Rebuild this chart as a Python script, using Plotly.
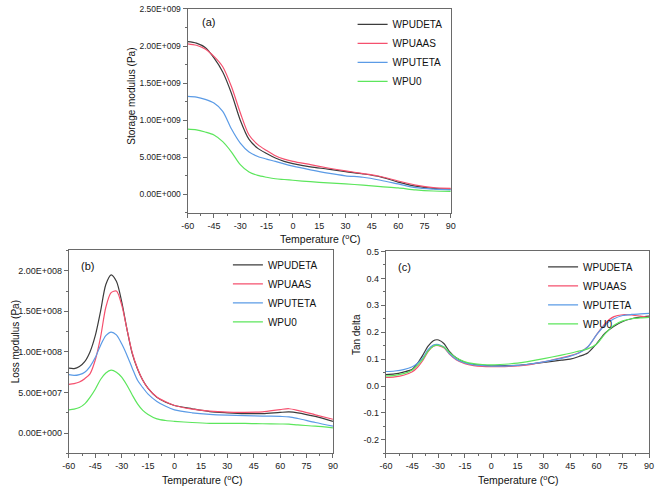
import plotly.graph_objects as go

# ---------------- data ----------------
series_names = ["WPUDETA", "WPUAAS", "WPUTETA", "WPU0"]
series_colors = ["#3c3c3c", "#f5506e", "#5b9be6", "#5ce65c"]

# (a) storage modulus, Pa
temp_a = [-60, -55, -50, -45, -40, -35, -30, -25, -20, -15, -10, -5, 0,
          10, 20, 30, 40, 50, 60, 70, 80, 90]
storage_wpudeta = [2.06e9, 2.04e9, 1.98e9, 1.84e9, 1.65e9, 1.36e9, 1.00e9, 0.74e9, 0.62e9,
                   0.55e9, 0.49e9, 0.445e9, 0.415e9, 0.37e9, 0.34e9, 0.305e9, 0.275e9,
                   0.235e9, 0.165e9, 0.11e9, 0.08e9, 0.07e9]
storage_wpuaas = [2.03e9, 2.01e9, 1.96e9, 1.86e9, 1.72e9, 1.45e9, 1.10e9, 0.80e9, 0.67e9,
                  0.59e9, 0.52e9, 0.475e9, 0.445e9, 0.40e9, 0.355e9, 0.315e9, 0.28e9,
                  0.24e9, 0.18e9, 0.125e9, 0.09e9, 0.08e9]
storage_wputeta = [1.32e9, 1.31e9, 1.28e9, 1.23e9, 1.12e9, 0.88e9, 0.69e9, 0.57e9, 0.51e9,
                   0.475e9, 0.445e9, 0.41e9, 0.38e9, 0.33e9, 0.285e9, 0.25e9, 0.23e9,
                   0.19e9, 0.14e9, 0.09e9, 0.07e9, 0.06e9]
storage_wpu0 = [0.88e9, 0.87e9, 0.84e9, 0.80e9, 0.71e9, 0.57e9, 0.40e9, 0.30e9, 0.255e9,
                0.23e9, 0.21e9, 0.20e9, 0.19e9, 0.17e9, 0.155e9, 0.14e9, 0.125e9,
                0.105e9, 0.087e9, 0.06e9, 0.045e9, 0.04e9]

# (b) loss modulus, Pa
temp_b = [-60, -57, -54, -51, -48, -45, -42, -39, -36, -33, -30, -27, -24, -21, -18,
          -15, -10, -5, 0, 10, 20, 30, 40, 50, 60, 65, 70, 80, 90]
loss_wpudeta = [8.0e7, 7.95e7, 8.2e7, 8.8e7, 10.0e7, 12.0e7, 15.0e7, 18.3e7, 19.5e7, 18.7e7,
                16.2e7, 12.8e7, 9.8e7, 7.9e7, 6.5e7, 5.5e7, 4.4e7, 3.8e7, 3.4e7, 3.0e7,
                2.65e7, 2.5e7, 2.4e7, 2.4e7, 2.55e7, 2.6e7, 2.5e7, 2.05e7, 1.45e7]
loss_wpuaas = [6.0e7, 6.1e7, 6.3e7, 6.7e7, 7.3e7, 9.0e7, 11.8e7, 15.5e7, 17.3e7, 17.5e7,
               15.8e7, 12.8e7, 9.9e7, 7.95e7, 6.5e7, 5.5e7, 4.45e7, 3.85e7, 3.4e7, 2.95e7,
               2.7e7, 2.58e7, 2.56e7, 2.62e7, 2.9e7, 3.0e7, 2.8e7, 2.25e7, 1.7e7]
loss_wputeta = [7.2e7, 7.1e7, 7.2e7, 7.5e7, 8.2e7, 9.3e7, 10.8e7, 12.0e7, 12.45e7, 12.1e7,
                11.0e7, 9.6e7, 8.0e7, 6.5e7, 5.6e7, 4.8e7, 3.9e7, 3.3e7, 2.85e7, 2.5e7,
                2.3e7, 2.2e7, 2.15e7, 2.1e7, 2.05e7, 2.0e7, 1.8e7, 1.3e7, 0.85e7]
loss_wpu0 = [2.86e7, 2.95e7, 3.15e7, 3.6e7, 4.4e7, 5.4e7, 6.6e7, 7.4e7, 7.75e7, 7.5e7,
             6.9e7, 5.9e7, 4.7e7, 3.6e7, 2.8e7, 2.3e7, 1.75e7, 1.55e7, 1.45e7, 1.3e7,
             1.2e7, 1.2e7, 1.2e7, 1.15e7, 1.12e7, 1.1e7, 1.0e7, 0.85e7, 0.65e7]

# (c) tan delta
temp_c = [-60, -55, -50, -45, -42, -39, -36, -33, -31, -30, -27, -24, -20, -15, -10, -5,
          0, 5, 10, 15, 20, 30, 40, 45, 50, 55, 60, 65, 70, 75, 80, 85, 90]
tan_wpudeta = [0.043, 0.045, 0.052, 0.062, 0.085, 0.115, 0.148, 0.168, 0.172, 0.171, 0.158,
               0.13, 0.105, 0.088, 0.08, 0.077, 0.075, 0.075, 0.076, 0.077, 0.08, 0.088,
               0.096, 0.1, 0.11, 0.123, 0.157, 0.197, 0.222, 0.24, 0.25, 0.256, 0.26]
tan_wpuaas = [0.032, 0.034, 0.04, 0.053, 0.07, 0.095, 0.128, 0.148, 0.151, 0.15, 0.142,
              0.12, 0.098, 0.083, 0.076, 0.073, 0.072, 0.072, 0.073, 0.075, 0.078, 0.09,
              0.105, 0.113, 0.124, 0.145, 0.19, 0.233, 0.258, 0.265, 0.264, 0.26, 0.255]
tan_wputeta = [0.054, 0.056, 0.061, 0.072, 0.085, 0.105, 0.135, 0.152, 0.155, 0.154, 0.145,
               0.122, 0.1, 0.086, 0.079, 0.076, 0.074, 0.074, 0.075, 0.077, 0.08, 0.09,
               0.103, 0.111, 0.123, 0.145, 0.19, 0.228, 0.25, 0.262, 0.266, 0.268, 0.27]
tan_wpu0 = [0.038, 0.04, 0.046, 0.06, 0.078, 0.1, 0.13, 0.148, 0.152, 0.151, 0.145, 0.126,
            0.105, 0.09, 0.083, 0.08, 0.079, 0.08, 0.082, 0.085, 0.09, 0.102, 0.115, 0.122,
            0.13, 0.138, 0.155, 0.195, 0.226, 0.242, 0.25, 0.253, 0.255]

# ticks
temp_tickvals = [-60, -45, -30, -15, 0, 15, 30, 45, 60, 75, 90]
temp_ticktext = ["-60", "-45", "-30", "-15", "0", "15", "30", "45", "60", "75", "90"]
storage_tickvals = [0, 5e8, 1e9, 1.5e9, 2e9, 2.5e9]
storage_ticktext = ["0.00E+000", "5.00E+008", "1.00E+009", "1.50E+009", "2.00E+009", "2.50E+009"]
loss_tickvals = [0, 5e7, 1e8, 1.5e8, 2e8]
loss_ticktext = ["0.00E+000", "5.00E+007", "1.00E+008", "1.50E+008", "2.00E+008"]
tan_tickvals = [-0.2, -0.1, 0.0, 0.1, 0.2, 0.3, 0.4, 0.5]
tan_ticktext = ["-0.2", "-0.1", "0.0", "0.1", "0.2", "0.3", "0.4", "0.5"]

# ---------------- figure ----------------
W, H = 660, 489
FONT = "Liberation Sans, Arial, sans-serif"
AXC = "#6a6a6a"

def px_x(p):
    return p / W

def px_y(p):
    return 1 - p / H

fig = go.Figure()

panels = [
    ("x", "y", "legend", temp_a, [storage_wpudeta, storage_wpuaas, storage_wputeta, storage_wpu0]),
    ("x2", "y2", "legend2", temp_b, [loss_wpudeta, loss_wpuaas, loss_wputeta, loss_wpu0]),
    ("x3", "y3", "legend3", temp_c, [tan_wpudeta, tan_wpuaas, tan_wputeta, tan_wpu0]),
]
for xa, ya, lg, tt, ys in panels:
    for name, col, yv in zip(series_names, series_colors, ys):
        fig.add_trace(go.Scatter(
            x=tt, y=yv, name=name, mode="lines", xaxis=xa, yaxis=ya, legend=lg,
            line=dict(color=col, width=1.2, shape="spline", smoothing=0.8),
        ))

def xaxis_cfg(dom, anchor):
    return dict(
        domain=dom, anchor=anchor, range=[-60, 90], tickmode="array",
        tickvals=temp_tickvals, ticktext=temp_ticktext,
        showline=True, linecolor=AXC, linewidth=1.2, mirror=True,
        ticks="outside", ticklen=4, tickcolor=AXC, tickwidth=1,
        showgrid=False, zeroline=False,
        tickfont=dict(family=FONT, size=9, color="#222"),
        minor=dict(tickmode="linear", tick0=-60, dtick=7.5, ticks="outside",
                   ticklen=2, tickcolor=AXC, showgrid=False),
    )

def yaxis_cfg(dom, anchor, rng, tv, tt, mdt, fs):
    return dict(
        domain=dom, anchor=anchor, range=rng, tickmode="array",
        tickvals=tv, ticktext=tt,
        showline=True, linecolor=AXC, linewidth=1.2, mirror=True,
        ticks="outside", ticklen=4, tickcolor=AXC, tickwidth=1,
        showgrid=False, zeroline=False,
        tickfont=dict(family=FONT, size=fs, color="#222"),
        minor=dict(tickmode="linear", tick0=0, dtick=mdt, ticks="outside",
                   ticklen=2, tickcolor=AXC, showgrid=False),
    )

legend_common = dict(
    bgcolor="rgba(0,0,0,0)", borderwidth=0, xanchor="left", yanchor="top",
    font=dict(family=FONT, size=10, color="#111"), tracegroupgap=0,
)

fig.update_layout(
    width=W, height=H, paper_bgcolor="white", plot_bgcolor="white",
    margin=dict(l=0, r=0, t=0, b=0),
    font=dict(family=FONT, color="#111"),
    xaxis=xaxis_cfg([px_x(184), px_x(452)], "y"),
    yaxis=yaxis_cfg([px_y(210), px_y(4)], "x", [-2.5e8, 2.5e9],
                    storage_tickvals, storage_ticktext, 2.5e8, 8.5),
    xaxis2=xaxis_cfg([px_x(63), px_x(332)], "y2"),
    yaxis2=yaxis_cfg([px_y(453), px_y(248)], "x2", [-2.5e7, 2.25e8],
                     loss_tickvals, loss_ticktext, 2.5e7, 9),
    xaxis3=xaxis_cfg([px_x(386), px_x(654)], "y3"),
    yaxis3=yaxis_cfg([px_y(453), px_y(249)], "x3", [-0.25, 0.5],
                     tan_tickvals, tan_ticktext, 0.05, 9),
    legend=dict(x=px_x(352), y=px_y(5), **legend_common),
    legend2=dict(x=px_x(225), y=px_y(248), **legend_common),
    legend3=dict(x=px_x(546), y=px_y(250), **legend_common),
)

ann = [
    ("(a)", 205, 17, 0, 11),
    ("(b)", 82, 264, 0, 11),
    ("(c)", 405, 265, 0, 11),
    ("Storage modulus (Pa)", 126, 92, -90, 10),
    ("Loss modulus (Pa)", 9, 340, -90, 10),
    ("Tan delta", 356, 333, -90, 10),
    ("Temperature (<sup>o</sup>C)", 319, 236, 0, 10.5),
    ("Temperature (<sup>o</sup>C)", 199, 479, 0, 10.5),
    ("Temperature (<sup>o</sup>C)", 521, 479, 0, 10.5),
]
for text, ax_, ay_, ang, fs in ann:
    fig.add_annotation(
        text=text, x=px_x(ax_), y=px_y(ay_), xref="paper", yref="paper",
        xanchor="center", yanchor="middle", showarrow=False, textangle=ang,
        font=dict(family=FONT, size=fs, color="#111"),
    )

fig.write_html(
    "out.html",
    config={"displayModeBar": False},
    post_script="document.body.style.margin='0px';document.body.style.overflow='hidden';",
)
